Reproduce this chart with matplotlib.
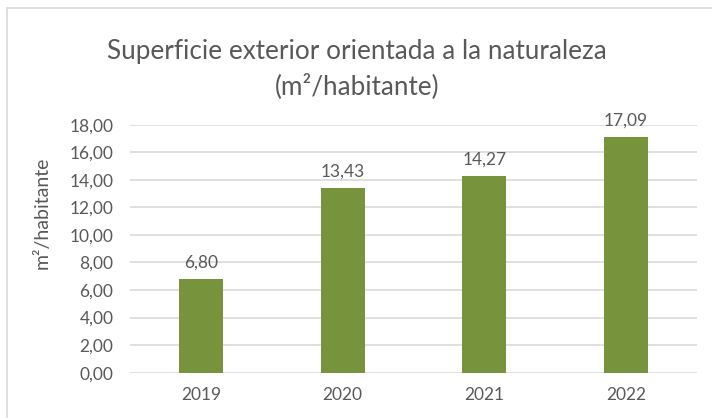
import matplotlib
matplotlib.use("Agg")
import matplotlib.pyplot as plt
from matplotlib.patches import Rectangle

years = ["2019", "2020", "2021", "2022"]
values = [6.80, 13.43, 14.27, 17.09]
yticks = [0, 2, 4, 6, 8, 10, 12, 14, 16, 18]

plt.rcParams['font.family'] = ['Lato', 'DejaVu Sans']
TXT = '#595959'
GREEN = '#77933C'
GRID = '#D9D9D9'

W, H = 712, 418
fig = plt.figure(figsize=(W/100, H/100), dpi=100)
fig.patches.append(Rectangle((7/W, -0.1), 1.1, (H-8)/H + 0.1, transform=fig.transFigure,
                             fill=False, edgecolor='#D9D9D9', linewidth=1.2))

x0, x1 = 130, 697
ytop, ybot = 124.7, 372.7
ax = fig.add_axes([x0/W, 1 - ybot/H, (x1-x0)/W, (ybot-ytop)/H])
ax.set_xlim(-0.5, 3.5)
ax.set_ylim(0, 18)

pos = list(range(len(years)))
bars = ax.bar(pos, values, width=0.31, color=GREEN, zorder=3)
for p, v in zip(pos, values):
    ax.annotate(f"{v:.2f}".replace('.', ','), (p, v), xytext=(0, 6), textcoords='offset points',
                ha='center', va='bottom', fontsize=12.5, color=TXT)

ax.set_yticks(yticks)
ax.set_yticklabels([f"{t:.2f}".replace('.', ',') for t in yticks], fontsize=12.5, color=TXT)
ax.set_xticks(pos)
ax.set_xticklabels(years, fontsize=12.5, color=TXT)
ax.tick_params(axis='y', length=0, pad=12)
ax.tick_params(axis='x', length=0, pad=10)
ax.grid(axis='y', color=GRID, linewidth=1.2, zorder=0)
for s in ax.spines.values():
    s.set_visible(False)
ax.set_ylabel("m²/habitante", fontsize=14, color=TXT)
ax.yaxis.set_label_coords(51/W, 1 - 213/H, transform=fig.transFigure)

fig.text(357/W, 1 - 52/H, "Superficie exterior orientada a la naturaleza",
         ha='center', va='center', fontsize=18.8, color=TXT)
fig.text(357/W, 1 - 86/H, "(m²/habitante)", ha='center', va='center', fontsize=18.8, color=TXT)

fig.savefig("out.png", dpi=100)
